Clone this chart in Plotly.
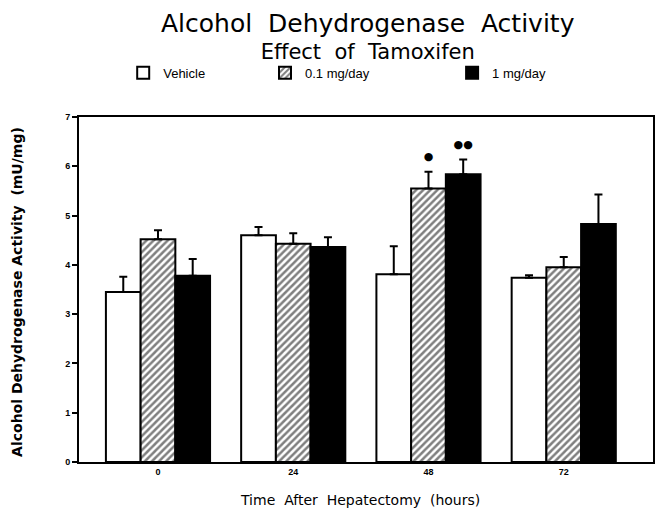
import numpy as np
import plotly.graph_objects as go

categories = ["0", "24", "48", "72"]
series_names = ["Vehicle", "0.1 mg/day", "1 mg/day"]
vehicle = [3.45, 4.60, 3.81, 3.74]
vehicle_err = [0.31, 0.17, 0.57, 0.05]
low_dose = [4.52, 4.43, 5.55, 3.95]
low_dose_err = [0.18, 0.21, 0.34, 0.21]
high_dose = [3.78, 4.36, 5.84, 4.83]
high_dose_err = [0.34, 0.20, 0.30, 0.60]
# significance marks: (category index, series index, label, y)
sig_cat = [2, 2]
sig_series = [1, 2]
sig_text = ["●", "●●"]
sig_y = [6.18, 6.43]
y_ticks = [0, 1, 2, 3, 4, 5, 6, 7]

FONT = "Liberation Sans"
WIDE = "DejaVu Sans"
NB = "\u00a0"
bargap = 0.23
x = np.arange(len(categories))

fig = go.Figure()
styles = [
    dict(color="white", pattern=None),
    dict(color="white", pattern=dict(shape="/", fgcolor="black", bgcolor="white", size=5, solidity=0.5)),
    dict(color="black", pattern=None),
]
values = [vehicle, low_dose, high_dose]
errs = [vehicle_err, low_dose_err, high_dose_err]
legends = ["legend", "legend2", "legend3"]
for i, name in enumerate(series_names):
    marker = dict(color=styles[i]["color"], line=dict(color="black", width=2))
    if styles[i]["pattern"]:
        marker["pattern"] = styles[i]["pattern"]
    fig.add_trace(go.Bar(
        x=x, y=values[i], name=name, marker=marker,
        legend=legends[i],
        error_y=dict(type="data", array=errs[i], arrayminus=[0] * len(categories),
                     symmetric=False, color="black", thickness=2, width=4),
    ))

w = (1 - bargap) / 3
sig_x = [sig_cat[k] + (sig_series[k] - 1) * w for k in range(len(sig_cat))]
fig.add_trace(go.Scatter(
    x=sig_x, y=sig_y, mode="text", text=sig_text, showlegend=False,
    textfont=dict(size=11, color="black", family="DejaVu Sans"), hoverinfo="skip",
))

legend_common = dict(orientation="h", y=1.128, xanchor="left", yanchor="middle",
                     font=dict(size=13, family=FONT), bgcolor="rgba(0,0,0,0)")

title_text = (f"<span style='font-size:25px'>Alcohol{NB}{NB}Dehydrogenase{NB}{NB}Activity</span>"
              f"<br>Effect{NB}{NB}of{NB}{NB}Tamoxifen")

fig.update_layout(
    width=647, height=502,
    margin=dict(l=71, r=2, t=109, b=48, autoexpand=False),
    paper_bgcolor="white", plot_bgcolor="white",
    barmode="group", bargap=bargap, bargroupgap=0,
    font=dict(family=FONT, color="black"),
    legend=dict(x=0.077, **legend_common),
    legend2=dict(x=0.324, **legend_common),
    legend3=dict(x=0.650, **legend_common),
    xaxis=dict(
        range=[-0.584, 3.66], tickvals=x, ticktext=categories,
        showline=True, linecolor="black", linewidth=2, mirror=True,
        showgrid=False, zeroline=False, ticks="", automargin=False,
        tickfont=dict(size=9, family=FONT, color="black", weight="bold"),
    ),
    yaxis=dict(
        range=[0, 7], tickvals=y_ticks,
        showline=True, linecolor="black", linewidth=2, mirror=True,
        showgrid=False, zeroline=False, ticks="outside", ticklen=5, tickwidth=1.5,
        tickcolor="black", automargin=False,
        tickfont=dict(size=9, family=FONT, color="black", weight="bold"),
    ),
    annotations=[
        dict(text=title_text, xref="paper", yref="paper",
             x=0.503, y=1.316, xanchor="center", yanchor="top", showarrow=False,
             align="center", borderpad=0,
             font=dict(size=21, family=WIDE, color="black")),
        dict(text=f"Time{NB}{NB}After{NB}{NB}Hepatectomy{NB}{NB}(hours)", xref="paper", yref="paper",
             x=0.49, y=-0.110, xanchor="center", yanchor="middle", showarrow=False,
             font=dict(size=14, family=WIDE, color="black")),
        dict(text=f"Alcohol{NB}Dehydrogenase{NB}Activity{NB}{NB}(mU/mg)", xref="paper", yref="paper",
             x=-0.108, y=0.493, xanchor="center", yanchor="middle", showarrow=False,
             textangle=-90,
             font=dict(size=14, family=WIDE, color="black", weight="bold")),
    ],
)

fig.write_html("out.html")
